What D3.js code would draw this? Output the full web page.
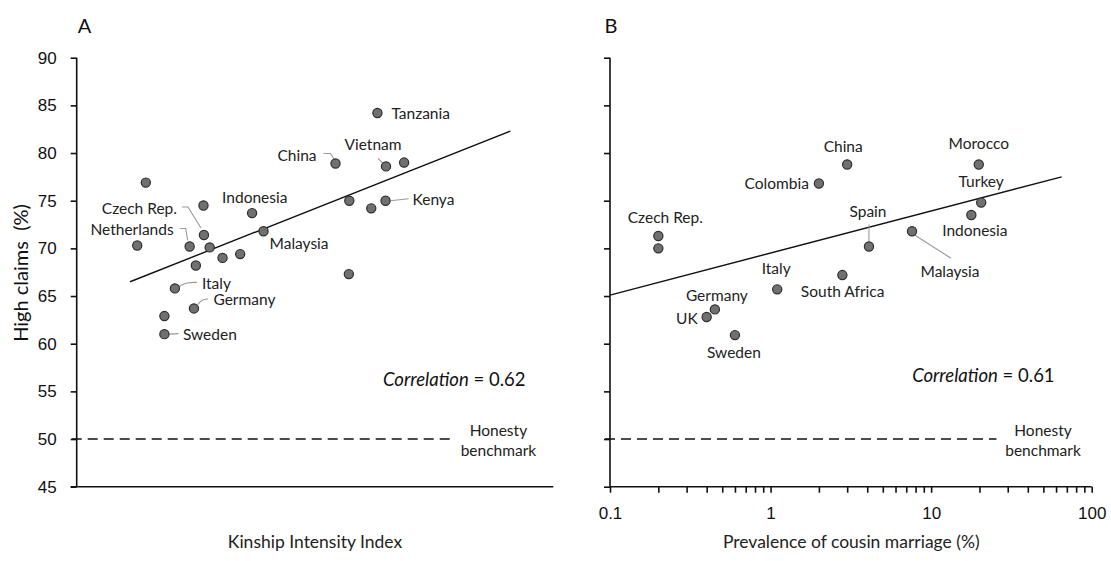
<!DOCTYPE html>
<html>
<head>
<meta charset="utf-8">
<script src="https://cdn.jsdelivr.net/npm/d3@7"></script>
<style>
  html, body { margin: 0; padding: 0; background: #fff; }
  svg { display: block; font-family: Lato, "Open Sans", sans-serif; }
  .tick text { font-size: 17px; fill: #111; }
  .domain, .tick line { stroke: #111; stroke-width: 1.6px; }
</style>
</head>
<body>
<svg id="chart" width="1111" height="561"></svg>
<script>
// ---- Panel A: kinship intensity vs. share of high claims ----
const kinshipCountries = ["Tanzania", "China", "Vietnam", "", "", "", "Indonesia", "", "", "Kenya",
  "Czech Rep.", "Malaysia", "Netherlands", "", "", "", "", "", "", "Italy", "Germany", "", "Sweden"];
const kinshipIndex = [6.31, 5.43, 6.49, 6.87, 1.45, 2.66, 3.68, 5.72, 6.18, 6.48,
  2.67, 3.92, 2.37, 1.27, 2.79, 3.06, 3.43, 2.50, 5.71, 2.06, 2.46, 1.84, 1.84];
const kinshipClaims = [84.2, 78.9, 78.6, 79.0, 76.9, 74.5, 73.7, 75.0, 74.2, 75.0,
  71.4, 71.8, 70.2, 70.3, 70.1, 69.0, 69.4, 68.2, 67.3, 65.8, 63.7, 62.9, 61.0];
const kinshipFitX = [1.12, 9.10];
const kinshipFitY = [66.5, 82.3];
const kinshipCorrelation = "0.62";

// ---- Panel B: cousin marriage vs. share of high claims ----
const cousinCountries = ["Czech Rep.", "", "Colombia", "China", "Morocco", "Turkey", "Indonesia",
  "Malaysia", "Spain", "South Africa", "Italy", "Germany", "UK", "Sweden"];
const cousinMarriage = [0.2, 0.2, 2.0, 3.0, 19.8, 20.5, 17.8, 7.6, 4.1, 2.8, 1.1, 0.45, 0.4, 0.6];
const cousinClaims = [71.3, 70.0, 76.8, 78.8, 78.8, 74.8, 73.5, 71.8, 70.2, 67.2, 65.7, 63.6, 62.8, 60.9];
const cousinFitX = [0.1, 65];
const cousinFitY = [65.1, 77.5];
const cousinCorrelation = "0.61";

// ---- Shared ----
const claimTicks = [45, 50, 55, 60, 65, 70, 75, 80, 85, 90];
const cousinTickLabels = [0.1, 1, 10, 100];
const honestyBenchmark = 50;

// Label placement (pixel offsets from each point) and leader lines
const labelLayoutA = {
  "Tanzania":    { dx: 14, dy: 0, anchor: "start" },
  "China":       { dx: -19, dy: -9, anchor: "end", leader: [[-12, -10], [-5, -10], [-1, -4]] },
  "Vietnam":     { dx: -13, dy: -22, anchor: "middle", leader: [[-8, -8], [-3, -3]] },
  "Kenya":       { dx: 27, dy: -1.5, anchor: "start", leader: [[5, 0], [23, -2]] },
  "Indonesia":   { dx: -30, dy: -16, anchor: "start" },
  "Czech Rep.":  { dx: -27, dy: -27, anchor: "end", leader: [[-22, -28], [-16, -28], [-3, -7]] },
  "Netherlands": { dx: -16, dy: -17.5, anchor: "end", leader: [[-10, -18], [-4, -18], [-2, -6]] },
  "Malaysia":    { dx: 6, dy: 12, anchor: "start" },
  "Italy":       { dx: 27, dy: -5.5, anchor: "start", curve: true, leader: [[4, -2], [12, -6], [22, -6]] },
  "Germany":     { dx: 19.5, dy: -9, anchor: "start", curve: true, leader: [[4, -4], [8, -9], [14, -9.5]] },
  "Sweden":      { dx: 18.5, dy: -0.5, anchor: "start", leader: [[4, 0], [14, -0.5]] }
};
const labelLayoutB = {
  "Czech Rep.":   { dx: 7, dy: -18.5, anchor: "middle" },
  "Colombia":     { dx: -10, dy: -1, anchor: "end" },
  "China":        { dx: -4, dy: -18.5, anchor: "middle" },
  "Morocco":      { dx: 0, dy: -21.5, anchor: "middle" },
  "Turkey":       { dx: 0, dy: -21.5, anchor: "middle" },
  "Indonesia":    { dx: 3.5, dy: 14.5, anchor: "middle" },
  "Spain":        { dx: -1, dy: -35.5, anchor: "middle", leader: [[0, -22], [0, -5]] },
  "Malaysia":     { dx: 38, dy: 40, anchor: "middle", leader: [[3, 4], [39, 27]] },
  "Italy":        { dx: -1, dy: -21.5, anchor: "middle" },
  "South Africa": { dx: -41.5, dy: 16, anchor: "start" },
  "Germany":      { dx: 2, dy: -14.5, anchor: "middle" },
  "UK":           { dx: -9, dy: 1, anchor: "end" },
  "Sweden":       { dx: -1, dy: 17, anchor: "middle" }
};

const svg = d3.select("#chart");
const yTop = 57.7, yBottom = 486.7;

const y = d3.scaleLinear().domain([45, 90]).range([yBottom, yTop]);
const xA = d3.scaleLinear().domain([0, 10]).range([76.7, 553.3]);
const xB = d3.scaleLog().domain([0.1, 100]).range([610, 1091.7]);

function drawPanel(opt) {
  const g = svg.append("g");
  const x = opt.x;
  const [x0, x1] = x.range();

  // y axis
  const yAxis = d3.axisLeft(y).tickValues(claimTicks).tickSize(6).tickPadding(14)
    .tickFormat(opt.yLabels ? d3.format("d") : () => "");
  g.append("g").attr("transform", `translate(${x0},0)`).call(yAxis)
    .call(s => s.select(".domain").attr("d", `M0,${yTop}V${yBottom}`));

  // x axis
  const xg = g.append("g").attr("transform", `translate(0,${yBottom})`);
  if (opt.log) {
    const minor = [];
    for (let e = -1; e < 2; e++) for (let k = 1; k < 10; k++) minor.push(k * Math.pow(10, e));
    minor.push(100);
    xg.call(d3.axisBottom(x).tickValues(minor).tickSize(6).tickPadding(14)
      .tickFormat(d => cousinTickLabels.includes(+d.toPrecision(3)) ? d3.format("~g")(d) : ""));
    xg.select(".domain").attr("d", `M${x0},0H${x1}`);
  } else {
    xg.append("path").attr("class", "domain").attr("fill", "none")
      .attr("d", `M${x0 - 6},0H${x1}`);
  }

  // honesty benchmark
  g.append("line")
    .attr("x1", x0 - 5).attr("x2", opt.benchEnd)
    .attr("y1", y(honestyBenchmark)).attr("y2", y(honestyBenchmark))
    .attr("stroke", "#111").attr("stroke-width", 1.5).attr("stroke-dasharray", "10,6");
  const bench = g.append("text").attr("text-anchor", "middle")
    .attr("font-size", 15.5).attr("fill", "#222");
  bench.append("tspan").attr("x", opt.benchLabelX).attr("y", 430).attr("dominant-baseline", "central").text("Honesty");
  bench.append("tspan").attr("x", opt.benchLabelX).attr("y", 450).attr("dominant-baseline", "central").text("benchmark");

  // fitted line
  g.append("line")
    .attr("x1", x(opt.fitX[0])).attr("y1", y(opt.fitY[0]))
    .attr("x2", x(opt.fitX[1])).attr("y2", y(opt.fitY[1]))
    .attr("stroke", "#111").attr("stroke-width", 1.4);

  // leaders and labels
  const pts = opt.names.map((n, i) => ({ name: n, px: x(opt.xs[i]), py: y(opt.ys[i]) }));
  const line = d3.line();
  const curved = d3.line().curve(d3.curveBasis);
  pts.forEach(p => {
    const L = opt.layout[p.name];
    if (!p.name || !L) return;
    if (L.leader) {
      const path = L.leader.map(([dx, dy]) => [p.px + dx, p.py + dy]);
      g.append("path").attr("d", (L.curve ? curved : line)(path))
        .attr("fill", "none").attr("stroke", "#9a9a9a").attr("stroke-width", 1.1);
    }
    g.append("text")
      .attr("x", p.px + L.dx).attr("y", p.py + L.dy)
      .attr("text-anchor", L.anchor).attr("dominant-baseline", "central")
      .attr("font-size", 15.5).attr("fill", "#222")
      .text(p.name);
  });

  // points
  g.selectAll("circle.pt").data(pts).join("circle")
    .attr("class", "pt")
    .attr("cx", d => d.px).attr("cy", d => d.py).attr("r", 4.6)
    .attr("fill", "#707070").attr("stroke", "#2e2e2e").attr("stroke-width", 1.2);

  // correlation note
  const corr = g.append("text").attr("x", opt.corrX).attr("y", opt.corrY)
    .attr("text-anchor", "end").attr("dominant-baseline", "central")
    .attr("font-size", 18.5).attr("fill", "#111");
  corr.append("tspan").attr("font-style", "italic").text("Correlation");
  corr.append("tspan").text(" = " + opt.corr);

  // panel letter and x title
  g.append("text").attr("x", opt.letterX).attr("y", 25).attr("dominant-baseline", "central")
    .attr("text-anchor", "middle").attr("font-size", 20).attr("fill", "#111").text(opt.letter);
  g.append("text").attr("x", opt.titleX).attr("y", 541.5).attr("dominant-baseline", "central")
    .attr("text-anchor", "middle").attr("font-size", 17.5).attr("fill", "#222").text(opt.title);
}

drawPanel({
  x: xA, log: false, yLabels: true,
  names: kinshipCountries, xs: kinshipIndex, ys: kinshipClaims,
  fitX: kinshipFitX, fitY: kinshipFitY, layout: labelLayoutA,
  corr: kinshipCorrelation, corrX: 525.5, corrY: 379,
  benchEnd: 453.4, benchLabelX: 498.4,
  letter: "A", letterX: 84.6, title: "Kinship Intensity Index", titleX: 315
});

drawPanel({
  x: xB, log: true, yLabels: false,
  names: cousinCountries, xs: cousinMarriage, ys: cousinClaims,
  fitX: cousinFitX, fitY: cousinFitY, layout: labelLayoutB,
  corr: cousinCorrelation, corrX: 1054.6, corrY: 375,
  benchEnd: 996.5, benchLabelX: 1043,
  letter: "B", letterX: 611, title: "Prevalence of cousin marriage (%)", titleX: 851.3
});

// shared y title
svg.append("text")
  .attr("transform", `translate(20,273) rotate(-90)`)
  .attr("text-anchor", "middle").attr("dominant-baseline", "central")
  .attr("font-size", 20).attr("fill", "#111")
  .attr("xml:space", "preserve")
  .text("High claims  (%)");
</script>
</body>
</html>
